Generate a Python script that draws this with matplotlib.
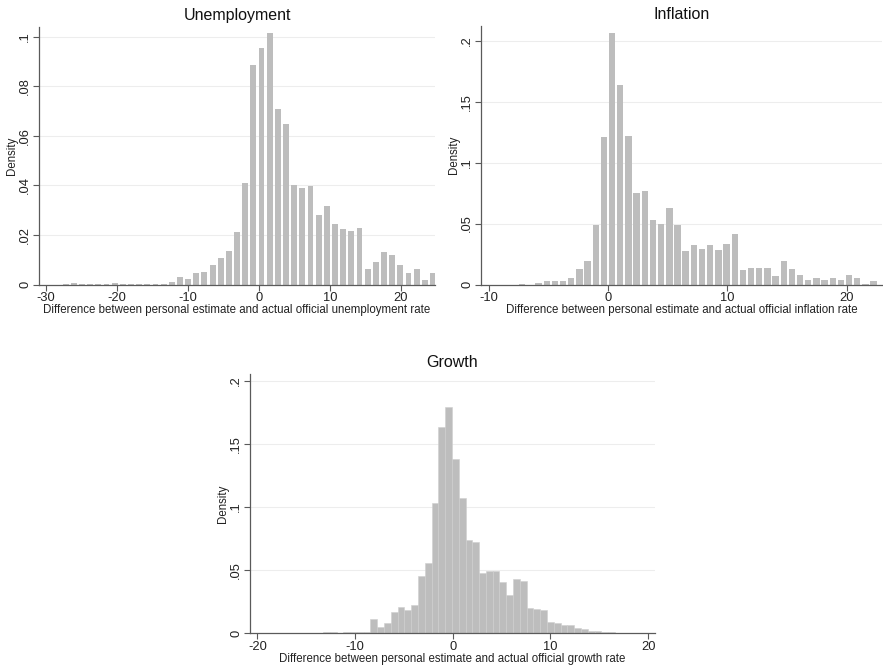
import numpy as np
import matplotlib.pyplot as plt

plt.rcParams['font.family'] = ['Liberation Sans', 'DejaVu Sans']

# histogram bins: first bin center and bin width, densities per bin
unemp_start = -27.24
unemp_width = 1.15
unemp_density = [0.0003, 0.0005, 0.0004, 0.0004, 0.0003, 0.0003, 0.0005,
                 0.0004, 0.0003, 0.0003, 0.0003, 0.0003, 0.0004, 0.0009,
                 0.0030, 0.0022, 0.0047, 0.0049, 0.0077, 0.0108, 0.0135,
                 0.0214, 0.0408, 0.0885, 0.0954, 0.1017, 0.0709, 0.0649,
                 0.0401, 0.0388, 0.0397, 0.0280, 0.0318, 0.0243, 0.0226,
                 0.0216, 0.0227, 0.0061, 0.0091, 0.0130, 0.0119, 0.0077,
                 0.0046, 0.0064, 0.0020, 0.0046]

infl_start = -7.2
infl_width = 0.685
infl_density = [0.0005, 0.0, 0.0010, 0.0030, 0.0030, 0.0030, 0.0050,
                0.0130, 0.0195, 0.0490, 0.1210, 0.2066, 0.1635, 0.1220,
                0.0750, 0.0764, 0.0530, 0.0497, 0.0624, 0.0490, 0.0275,
                0.0320, 0.0288, 0.0320, 0.0280, 0.0335, 0.0415, 0.0118,
                0.0135, 0.0135, 0.0135, 0.0066, 0.0195, 0.0124, 0.0082,
                0.0036, 0.0052, 0.0038, 0.0052, 0.0036, 0.0077, 0.0052,
                0.0003, 0.0030]

growth_start = -13.285   # left edge of first bin
growth_width = 0.695
growth_density = [0.0005, 0.0005, 0.0, 0.0005, 0.0005, 0.0004, 0.0006,
                  0.0110, 0.0045, 0.0080, 0.0168, 0.0210, 0.0184, 0.0223,
                  0.0452, 0.0553, 0.1035, 0.1636, 0.1795, 0.1380, 0.1074,
                  0.0737, 0.0723, 0.0479, 0.0489, 0.0495, 0.0404, 0.0303,
                  0.0426, 0.0410, 0.0202, 0.0191, 0.0184, 0.0090, 0.0077,
                  0.0066, 0.0064, 0.0037, 0.0032, 0.0019, 0.0013, 0.0008,
                  0.0005]

unemp_ticks = [-30, -20, -10, 0, 10, 20]
unemp_yticks = [0, 0.02, 0.04, 0.06, 0.08, 0.1]
unemp_ylabels = ['0', '.02', '.04', '.06', '.08', '.1']
infl_ticks = [-10, 0, 10, 20]
growth_ticks = [-20, -10, 0, 10, 20]
rate_yticks = [0, 0.05, 0.1, 0.15, 0.2]
rate_ylabels = ['0', '.05', '.1', '.15', '.2']

W, H = 883, 667
bar_col = '#bdbdbd'
axis_col = '#5a5a5a'

fig = plt.figure(figsize=(W / 100, H / 100), dpi=100)


def make_ax(l, r, t, b):
    ax = fig.add_axes([l / W, 1 - b / H, (r - l) / W, (b - t) / H])
    ax.px_width = r - l
    return ax


def style(ax, title, xlabel, xticks, yticks, ylabels):
    for s in ['top', 'right']:
        ax.spines[s].set_visible(False)
    for s in ['left', 'bottom']:
        ax.spines[s].set_color(axis_col)
        ax.spines[s].set_linewidth(0.9)
    ax.set_xticks(xticks)
    ax.set_xticklabels([str(t) for t in xticks])
    ax.set_yticks(yticks)
    ax.set_yticklabels(ylabels, rotation=90, va='center')
    ax.tick_params(axis='both', length=4, width=0.8, color=axis_col,
                   labelsize=9.3, labelcolor='#222222')
    ax.tick_params(axis='x', pad=1.5)
    ax.tick_params(axis='y', pad=1.5)
    for y in yticks[1:]:
        ax.axhline(y, color='#ededed', lw=0.8, zorder=0)
    ax.set_title(title, fontsize=11.5, pad=5, color='#111111')
    ax.set_xlabel(xlabel, fontsize=8.3, labelpad=0, color='#222222')
    ax.set_ylabel('Density', fontsize=8.3, color='#222222')
    ax.yaxis.set_label_coords(-20.5 / ax.px_width, 0.5)


ax1 = make_ax(39, 435, 27, 284.5)
x1 = unemp_start + unemp_width * np.arange(len(unemp_density))
ax1.bar(x1, unemp_density, width=unemp_width * 0.72, color=bar_col, zorder=2)
ax1.set_xlim(-31.0, 24.8)
ax1.set_ylim(0, 0.104)
style(ax1, 'Unemployment',
      'Difference between personal estimate and actual official unemployment rate',
      unemp_ticks, unemp_yticks, unemp_ylabels)

ax2 = make_ax(481, 882, 26, 284.5)
x2 = infl_start + infl_width * np.arange(len(infl_density))
ax2.bar(x2, infl_density, width=infl_width * 0.78, color=bar_col, zorder=2)
ax2.set_xlim(-10.66, 22.96)
ax2.set_ylim(0, 0.2121)
style(ax2, 'Inflation',
      'Difference between personal estimate and actual official inflation rate',
      infl_ticks, rate_yticks, rate_ylabels)

ax3 = make_ax(250, 655, 374, 633)
x3 = growth_start + growth_width * np.arange(len(growth_density))
ax3.bar(x3, growth_density, width=growth_width, align='edge', color=bar_col,
        edgecolor='#cfcfcf', linewidth=0.4, zorder=2)
ax3.set_xlim(-20.75, 20.7)
ax3.set_ylim(0, 0.2056)
style(ax3, 'Growth',
      'Difference between personal estimate and actual official growth rate',
      growth_ticks, rate_yticks, rate_ylabels)

fig.savefig('out.png', dpi=100, facecolor='white')
